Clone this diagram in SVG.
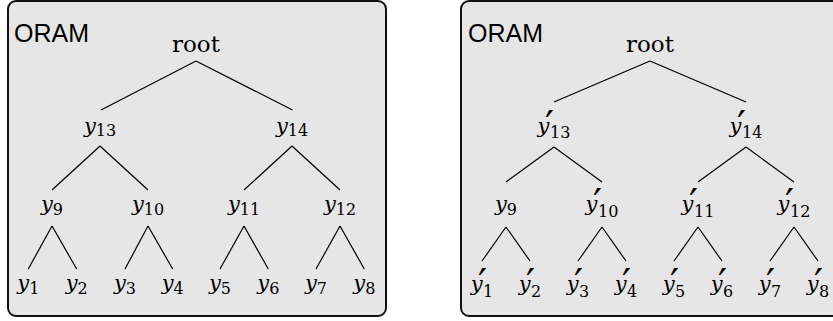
<svg xmlns="http://www.w3.org/2000/svg" width="833" height="321" viewBox="0 0 833 321">
<style>
.panel{fill:#e6e6e6;stroke:#111;stroke-width:2}
.edge line{stroke:#000;stroke-width:1.2}
.lbl{font-family:'DejaVu Serif',serif;font-size:21px;text-anchor:middle;fill:#000}
.lbp{font-family:'DejaVu Serif',serif;font-size:21px;fill:#000}
.root{font-size:23px}
.it{font-style:italic}
.sub{font-size:16px;font-style:normal}
.pr{font-size:40px;font-style:normal}
.title{font-family:'Liberation Sans',Arial,sans-serif;font-size:25px;fill:#000}
</style>
<g id="panel-left">
<rect class="panel" x="8" y="1" width="378" height="315" rx="8"/>
<text class="title" x="14" y="42">ORAM</text>
</g>
<g id="panel-right">
<rect class="panel" x="461" y="1" width="400" height="315" rx="8"/>
<text class="title" x="468" y="42">ORAM</text>
</g>
<g id="connectors" class="edge">
<line x1="196" y1="61" x2="101" y2="110"/><line x1="196" y1="61" x2="292.5" y2="110"/>
<line x1="100" y1="146" x2="52" y2="190"/><line x1="100" y1="146" x2="148" y2="190"/>
<line x1="292" y1="146" x2="244" y2="190"/><line x1="292" y1="146" x2="340" y2="190"/>
<line x1="52" y1="226" x2="28.3" y2="269"/><line x1="52" y1="226" x2="76.7" y2="269"/>
<line x1="148" y1="226" x2="125" y2="269"/><line x1="148" y1="226" x2="172.7" y2="269"/>
<line x1="244" y1="226" x2="220" y2="269"/><line x1="244" y1="226" x2="268.3" y2="269"/>
<line x1="340" y1="226" x2="316" y2="269"/><line x1="340" y1="226" x2="364.3" y2="269"/>
<line x1="650" y1="61" x2="554" y2="102"/><line x1="650" y1="61" x2="746" y2="102"/>
<line x1="554" y1="147" x2="506" y2="182"/><line x1="554" y1="147" x2="602" y2="182"/>
<line x1="746" y1="147" x2="698" y2="182"/><line x1="746" y1="147" x2="794" y2="182"/>
<line x1="506" y1="227" x2="482" y2="261"/><line x1="506" y1="227" x2="530" y2="261"/>
<line x1="602" y1="227" x2="578" y2="261"/><line x1="602" y1="227" x2="626" y2="261"/>
<line x1="698" y1="227" x2="674" y2="261"/><line x1="698" y1="227" x2="722" y2="261"/>
<line x1="794" y1="227" x2="770" y2="261"/><line x1="794" y1="227" x2="818" y2="261"/>
</g>
<g id="L-root"><text class="lbl root" x="196" y="52">root</text></g>
<g id="L-y13"><text class="lbl it" x="100" y="132.5">y<tspan class="sub" dy="3.5">13</tspan></text></g>
<g id="L-y14"><text class="lbl it" x="292" y="132.5">y<tspan class="sub" dy="3.5">14</tspan></text></g>
<g id="L-y9"><text class="lbl it" x="52" y="211">y<tspan class="sub" dy="3.5">9</tspan></text></g>
<g id="L-y10"><text class="lbl it" x="148" y="211">y<tspan class="sub" dy="3.5">10</tspan></text></g>
<g id="L-y11"><text class="lbl it" x="244" y="211">y<tspan class="sub" dy="3.5">11</tspan></text></g>
<g id="L-y12"><text class="lbl it" x="340" y="211">y<tspan class="sub" dy="3.5">12</tspan></text></g>
<g id="L-y1"><text class="lbl it" x="28.3" y="290">y<tspan class="sub" dy="3.5">1</tspan></text></g>
<g id="L-y2"><text class="lbl it" x="76.7" y="290">y<tspan class="sub" dy="3.5">2</tspan></text></g>
<g id="L-y3"><text class="lbl it" x="125" y="290">y<tspan class="sub" dy="3.5">3</tspan></text></g>
<g id="L-y4"><text class="lbl it" x="172.7" y="290">y<tspan class="sub" dy="3.5">4</tspan></text></g>
<g id="L-y5"><text class="lbl it" x="220" y="290">y<tspan class="sub" dy="3.5">5</tspan></text></g>
<g id="L-y6"><text class="lbl it" x="268.3" y="290">y<tspan class="sub" dy="3.5">6</tspan></text></g>
<g id="L-y7"><text class="lbl it" x="316" y="290">y<tspan class="sub" dy="3.5">7</tspan></text></g>
<g id="L-y8"><text class="lbl it" x="364.3" y="290">y<tspan class="sub" dy="3.5">8</tspan></text></g>
<g id="R-root"><text class="lbl root" x="650" y="52">root</text></g>
<g id="R-y13"><text class="lbp" x="537.6" y="132.5"><tspan class="it">y</tspan><tspan class="pr" x="545" y="138.5">′</tspan><tspan class="sub" x="550" y="138">13</tspan></text></g>
<g id="R-y14"><text class="lbp" x="729.6" y="132.5"><tspan class="it">y</tspan><tspan class="pr" x="737" y="138.5">′</tspan><tspan class="sub" x="742" y="138">14</tspan></text></g>
<g id="R-y9"><text class="lbl it" x="506" y="211">y<tspan class="sub" dy="3.5">9</tspan></text></g>
<g id="R-y10"><text class="lbp" x="585.6" y="211"><tspan class="it">y</tspan><tspan class="pr" x="593" y="217">′</tspan><tspan class="sub" x="598" y="216.5">10</tspan></text></g>
<g id="R-y11"><text class="lbp" x="681.6" y="211"><tspan class="it">y</tspan><tspan class="pr" x="689" y="217">′</tspan><tspan class="sub" x="694" y="216.5">11</tspan></text></g>
<g id="R-y12"><text class="lbp" x="777.6" y="211"><tspan class="it">y</tspan><tspan class="pr" x="785" y="217">′</tspan><tspan class="sub" x="790" y="216.5">12</tspan></text></g>
<g id="R-y1"><text class="lbp" x="470.7" y="291"><tspan class="it">y</tspan><tspan class="pr" x="478.1" y="297">′</tspan><tspan class="sub" x="483.1" y="296.5">1</tspan></text></g>
<g id="R-y2"><text class="lbp" x="518.7" y="291"><tspan class="it">y</tspan><tspan class="pr" x="526.1" y="297">′</tspan><tspan class="sub" x="531.1" y="296.5">2</tspan></text></g>
<g id="R-y3"><text class="lbp" x="566.7" y="291"><tspan class="it">y</tspan><tspan class="pr" x="574.1" y="297">′</tspan><tspan class="sub" x="579.1" y="296.5">3</tspan></text></g>
<g id="R-y4"><text class="lbp" x="614.7" y="291"><tspan class="it">y</tspan><tspan class="pr" x="622.1" y="297">′</tspan><tspan class="sub" x="627.1" y="296.5">4</tspan></text></g>
<g id="R-y5"><text class="lbp" x="662.7" y="291"><tspan class="it">y</tspan><tspan class="pr" x="670.1" y="297">′</tspan><tspan class="sub" x="675.1" y="296.5">5</tspan></text></g>
<g id="R-y6"><text class="lbp" x="710.7" y="291"><tspan class="it">y</tspan><tspan class="pr" x="718.1" y="297">′</tspan><tspan class="sub" x="723.1" y="296.5">6</tspan></text></g>
<g id="R-y7"><text class="lbp" x="758.7" y="291"><tspan class="it">y</tspan><tspan class="pr" x="766.1" y="297">′</tspan><tspan class="sub" x="771.1" y="296.5">7</tspan></text></g>
<g id="R-y8"><text class="lbp" x="806.7" y="291"><tspan class="it">y</tspan><tspan class="pr" x="814.1" y="297">′</tspan><tspan class="sub" x="819.1" y="296.5">8</tspan></text></g>
</svg>
